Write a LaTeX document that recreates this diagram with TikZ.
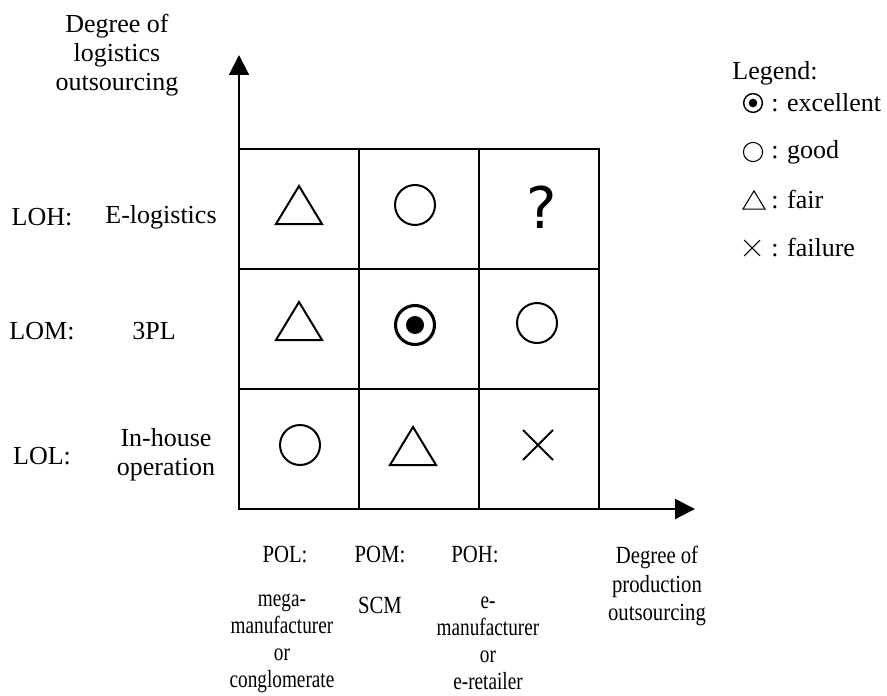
\documentclass[tikz,border=0pt]{standalone}
\usepackage{fontspec}
\setmainfont{Liberation Serif}
\newfontfamily\condfont[FakeStretch=0.84]{Liberation Serif}
\newfontfamily\condblock[FakeStretch=0.78]{Liberation Serif}
\newfontfamily\symfont{DejaVu Sans}
\usetikzlibrary{arrows.meta}
\begin{document}
\begin{tikzpicture}[x=0.75pt,y=-0.75pt,
  lbl/.style={font=\fontsize{19.5}{22}\selectfont, inner sep=0pt, align=center},
  blbl/.style={font=\condfont\fontsize{18.5}{20.3}\selectfont, inner sep=0pt, align=center},
  bblk/.style={font=\condblock\fontsize{18.5}{20.3}\selectfont, inner sep=0pt, align=center},
  cell/.style={draw, line width=1pt, minimum size=90pt, inner sep=0pt, outer sep=0pt},
  axis/.style={line width=1.5pt, -{Triangle[width=15pt,length=15pt]}},
  tri/.pic={\draw (0,-19) -- (23,19) -- (-23,19) -- cycle;},
  circ/.pic={\draw (0,0) circle[radius=20];},
  bull/.pic={\draw (0,0) circle[radius=19.5]; \fill (0,0) circle[radius=9];},
  crs/.pic={\draw (-15,-15) -- (15,15) (-15,15) -- (15,-15);},
]
\useasboundingbox (0,0) rectangle (887,695);

% grid cells
\node[cell] (c11) at (299,209) {};
\node[cell] (c12) at (419,209) {};
\node[cell] (c13) at (539,209) {};
\node[cell] (c21) at (299,329) {};
\node[cell] (c22) at (419,329) {};
\node[cell] (c23) at (539,329) {};
\node[cell] (c31) at (299,449) {};
\node[cell] (c32) at (419,449) {};
\node[cell] (c33) at (539,449) {};

% axes
\coordinate (o) at (239,509);
\coordinate (ytip) at (239,55);
\coordinate (xtip) at (695,509);
\draw[axis] (o) -- (ytip);
\draw[axis] (o) -- (xtip);

% symbols in cells
\pic[line width=1.5pt] at (299,205) {tri};
\pic[line width=1.5pt] at (415,205) {circ};
\node[font=\symfont\fontsize{43}{43}\selectfont, inner sep=0pt] (q) at (542,207) {?};
\pic[line width=1.5pt] at (299,321) {tri};
\pic[line width=2.3pt] at (415,325) {bull};
\pic[line width=1.5pt] at (537,323) {circ};
\pic[line width=1.5pt] at (300,445) {circ};
\pic[line width=1.5pt] at (413,446) {tri};
\pic[line width=1.5pt] at (538,445) {crs};

% left labels
\node[lbl] (ylab) at (117,55) {Degree of\\logistics\\outsourcing};
\node[lbl] (loh) at (42,217) {LOH:};
\node[lbl] (elog) at (161,217) {E-logistics};
\node[lbl] (lom) at (42,331) {LOM:};
\node[lbl] (tpl) at (154,331) {3PL};
\node[lbl] (lol) at (42,456) {LOL:};
\node[lbl] (inh) at (166,455) {In-house\\operation};

% bottom labels
\node[blbl] (pol) at (285,555) {POL:};
\node[blbl] (pom) at (380,555) {POM:};
\node[blbl] (poh) at (475,555) {POH:};
\node[bblk] (mega) at (282,643) {mega-\\manufacturer\\or\\conglomerate};
\node[blbl] (scm) at (380,605) {SCM};
\node[bblk] (eman) at (488,643) {e-\\manufacturer\\or\\e-retailer};
\node[blbl, font=\condfont\fontsize{18.5}{21.5}\selectfont] (xlab) at (657,586) {Degree of\\production\\outsourcing};

% legend
\node[lbl] (leg) at (775,73) {Legend:};
\pic[line width=1.1pt, scale=0.48] at (753,103) {bull};
\pic[line width=0.8pt, scale=0.48] at (753,152) {circ};
\pic[line width=0.8pt, scale=0.48] at (754,200) {tri};
\pic[line width=0.8pt, scale=0.53] at (752,248) {crs};
\node[lbl, anchor=west] (lex) at (771,103) {: excellent};
\node[lbl, anchor=west] (lgo) at (771,152) {: good};
\node[lbl, anchor=west] (lfa) at (771,200) {: fair};
\node[lbl, anchor=west] (lfl) at (771,248) {: failure};
\end{tikzpicture}
\end{document}
